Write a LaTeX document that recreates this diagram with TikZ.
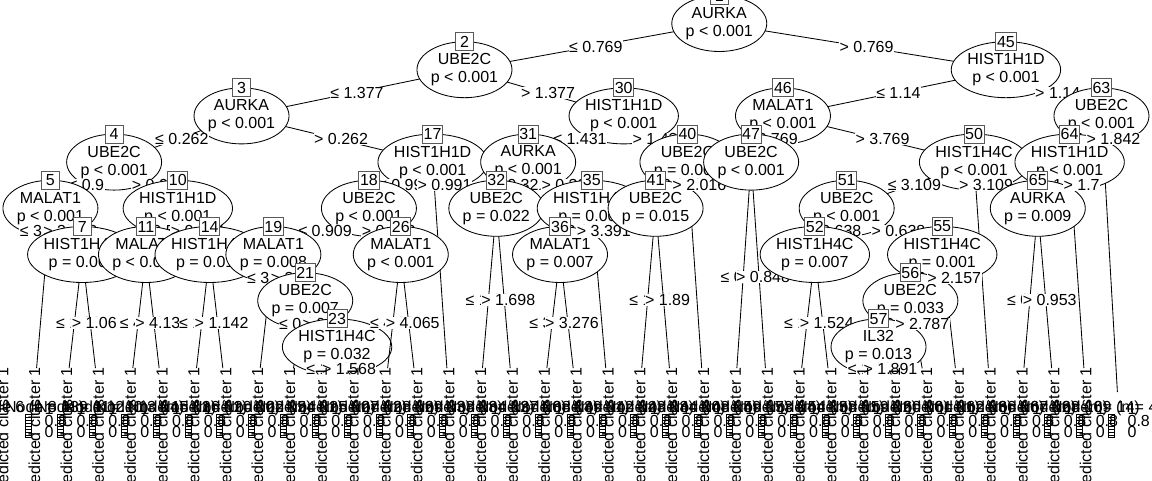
\documentclass[tikz,border=0pt]{standalone}
\usepackage{fontspec}
\setmainfont{Liberation Sans}
\usetikzlibrary{shapes.geometric,calc}
\tikzset{
  txt/.style={font=\fontsize{16}{18}\selectfont},
  inner/.style={txt, ellipse, draw, fill=white, minimum width=86pt, minimum height=56pt, inner sep=0pt, align=center, line width=0.85pt},
  idbox/.style={txt, rectangle, draw=black!65, fill=white, inner sep=1.2pt, minimum width=18pt, minimum height=18pt, line width=0.9pt},
  edge/.style={line width=0.85pt},
  tedge/.style={edge, shorten >=24pt},
  elab/.style={txt, fill=white, inner sep=0.5pt},
  thead/.style={txt, inner sep=0pt},
  rlab/.style={txt, inner sep=0pt, rotate=90, anchor=east},
  axl/.style={txt, inner sep=0pt, anchor=west},
}
\newcommand\ipos[3]{\coordinate (c#1) at ({34.5+31.85*#2},{23.5+46.2*#3});}
\newcommand\tpos[2]{\coordinate (c#1) at ({34.5+31.85*#2},392);}
\newcommand\inn[3]{\node[inner] (n#1) at (c#1) {#2\\#3};\node[idbox] (b#1) at ([yshift=28pt]c#1) {#1};}
\newcommand\lab[4]{\path let \p1=($(c#1)!0.5!(c#2)$), \p2=($(c#1)!0.5!(c#3)$) in node[elab] (l#2) at (\x1+4pt,\y2) {#4};}
\newcommand\E[2]{\draw[edge] (c#1) -- (c#2);}
\newcommand\T[2]{\draw[tedge] (c#1) -- (c#2);}
\newcommand\term[3]{%
  \pgfmathsetmacro\tx{34.5+31.85*#2}%
  \pgfmathsetmacro\rx{\tx-31.85}%
  \node[rlab] (r#1) at (\rx,367) {Predicted cluster 1};
  \node[thead] (h#1) at ({\tx-6},408) {Node #1 (n = #3)};
  \draw[line width=0.5pt] ({\tx-9},414) rectangle ({\tx-3},437);
  \foreach \yy in {417,420,...,435} {\draw[line width=0.5pt] ({\tx-9},\yy) -- ({\tx-3},\yy);}
  \node[axl] (a#1) at ({\tx+10},409) {1};
  \node[axl] at ({\tx+10},421) {0.8};
  \node[axl] at ({\tx+10},432) {0};
}
\begin{document}
\begin{tikzpicture}[x=1pt,y=-1pt]
\fill[white] (0,0) rectangle (1152,480);
\useasboundingbox (0,0) rectangle (1152,480);
\ipos{1}{21.5}{0}\ipos{2}{13.5}{1}\ipos{3}{6.5}{2}\ipos{4}{2.5}{3}\ipos{5}{0.5}{4}
\ipos{7}{1.5}{5}\ipos{10}{4.5}{4}\ipos{11}{3.5}{5}\ipos{14}{5.5}{5}\ipos{17}{12.5}{3}
\ipos{18}{10.5}{4}\ipos{19}{7.5}{5}\ipos{21}{8.5}{6}\ipos{23}{9.5}{7}\ipos{26}{11.5}{5}
\ipos{30}{18.5}{2}\ipos{31}{15.5}{3}\ipos{32}{14.5}{4}\ipos{35}{17.5}{4}\ipos{36}{16.5}{5}
\ipos{40}{20.5}{3}\ipos{41}{19.5}{4}\ipos{45}{30.5}{1}\ipos{46}{23.5}{2}\ipos{47}{22.5}{3}
\ipos{50}{29.5}{3}\ipos{51}{25.5}{4}\ipos{52}{24.5}{5}\ipos{55}{28.5}{5}\ipos{56}{27.5}{6}
\ipos{57}{26.5}{7}\ipos{63}{33.5}{2}\ipos{64}{32.5}{3}\ipos{65}{31.5}{4}
\tpos{6}{0}\tpos{8}{1}\tpos{9}{2}\tpos{12}{3}\tpos{13}{4}\tpos{15}{5}\tpos{16}{6}
\tpos{20}{7}\tpos{22}{8}\tpos{24}{9}\tpos{25}{10}\tpos{27}{11}\tpos{28}{12}\tpos{29}{13}
\tpos{33}{14}\tpos{34}{15}\tpos{37}{16}\tpos{38}{17}\tpos{39}{18}\tpos{42}{19}\tpos{43}{20}
\tpos{44}{21}\tpos{48}{22}\tpos{49}{23}\tpos{53}{24}\tpos{54}{25}\tpos{58}{26}\tpos{59}{27}
\tpos{60}{28}\tpos{61}{29}\tpos{62}{30}\tpos{66}{31}\tpos{67}{32}\tpos{68}{33}\tpos{69}{34}
% tree, drawn in the order of the original plot
\E{1}{2}\E{1}{45}\inn{1}{AURKA}{p < 0.001}\lab{1}{2}{2}{≤ 0.769}
\E{2}{3}\E{2}{30}\inn{2}{UBE2C}{p < 0.001}\lab{2}{3}{3}{≤ 1.377}
\E{3}{4}\E{3}{17}\inn{3}{AURKA}{p < 0.001}\lab{3}{4}{4}{≤ 0.262}
\E{4}{5}\E{4}{10}\inn{4}{UBE2C}{p < 0.001}\lab{4}{5}{5}{≤ 0.9}
\T{5}{6}\E{5}{7}\inn{5}{MALAT1}{p < 0.001}\lab{5}{6}{7}{≤ 3.418}\term{6}{0}{13}\lab{5}{7}{7}{> 3.418}
\T{7}{8}\T{7}{9}\inn{7}{HIST1H4C}{p = 0.003}\lab{7}{8}{8}{≤ 1.06}\term{8}{1}{11}\lab{7}{9}{8}{> 1.06}\term{9}{2}{10}
\lab{4}{10}{5}{> 0.9}
\E{10}{11}\E{10}{14}\inn{10}{HIST1H1D}{p < 0.001}\lab{10}{11}{11}{≤ 0.524}
\T{11}{12}\T{11}{13}\inn{11}{MALAT1}{p < 0.001}\lab{11}{12}{12}{≤ 4.13}\term{12}{3}{14}\lab{11}{13}{12}{> 4.13}\term{13}{4}{12}
\lab{10}{14}{11}{> 0.524}
\T{14}{15}\T{14}{16}\inn{14}{HIST1H4C}{p = 0.014}\lab{14}{15}{15}{≤ 1.142}\term{15}{5}{11}\lab{14}{16}{15}{> 1.142}\term{16}{6}{10}
\lab{3}{17}{4}{> 0.262}
\E{17}{18}\T{17}{29}\inn{17}{HIST1H1D}{p < 0.001}\lab{17}{18}{18}{≤ 0.991}
\E{18}{19}\E{18}{26}\inn{18}{UBE2C}{p < 0.001}\lab{18}{19}{19}{≤ 0.909}
\T{19}{20}\E{19}{21}\inn{19}{MALAT1}{p = 0.008}\lab{19}{20}{21}{≤ 3.45}\term{20}{7}{15}\lab{19}{21}{21}{> 3.45}
\T{21}{22}\E{21}{23}\inn{21}{UBE2C}{p = 0.007}\lab{21}{22}{23}{≤ 0.39}\term{22}{8}{11}\lab{21}{23}{23}{> 0.39}
\T{23}{24}\T{23}{25}\inn{23}{HIST1H4C}{p = 0.032}\lab{23}{24}{24}{≤ 1.568}\term{24}{9}{10}\lab{23}{25}{24}{> 1.568}\term{25}{10}{12}
\lab{18}{26}{19}{> 0.909}
\T{26}{27}\T{26}{28}\inn{26}{MALAT1}{p < 0.001}\lab{26}{27}{27}{≤ 4.065}\term{27}{11}{16}\lab{26}{28}{27}{> 4.065}\term{28}{12}{13}
\lab{17}{29}{18}{> 0.991}\term{29}{13}{18}
\lab{2}{30}{3}{> 1.377}
\E{30}{31}\E{30}{40}\inn{30}{HIST1H1D}{p < 0.001}\lab{30}{31}{31}{≤ 1.431}
\E{31}{32}\E{31}{35}\inn{31}{AURKA}{p < 0.001}\lab{31}{32}{32}{≤ 0.32}
\T{32}{33}\T{32}{34}\inn{32}{UBE2C}{p = 0.022}\lab{32}{33}{33}{≤ 1.698}\term{33}{14}{12}\lab{32}{34}{33}{> 1.698}\term{34}{15}{10}
\lab{31}{35}{32}{> 0.32}
\E{35}{36}\T{35}{39}\inn{35}{HIST1H4C}{p = 0.004}\lab{35}{36}{36}{≤ 3.391}
\T{36}{37}\T{36}{38}\inn{36}{MALAT1}{p = 0.007}\lab{36}{37}{37}{≤ 3.276}\term{37}{16}{14}\lab{36}{38}{37}{> 3.276}\term{38}{17}{11}
\lab{35}{39}{36}{> 3.391}\term{39}{18}{12}
\lab{30}{40}{31}{> 1.431}
\E{40}{41}\T{40}{44}\inn{40}{UBE2C}{p = 0.002}\lab{40}{41}{41}{≤ 2.016}
\T{41}{42}\T{41}{43}\inn{41}{UBE2C}{p = 0.015}\lab{41}{42}{42}{≤ 1.89}\term{42}{19}{13}\lab{41}{43}{42}{> 1.89}\term{43}{20}{10}
\lab{40}{44}{41}{> 2.016}\term{44}{21}{15}
\lab{1}{45}{2}{> 0.769}
\E{45}{46}\E{45}{63}\inn{45}{HIST1H1D}{p < 0.001}\lab{45}{46}{46}{≤ 1.14}
\E{46}{47}\E{46}{50}\inn{46}{MALAT1}{p < 0.001}\lab{46}{47}{47}{≤ 3.769}
\T{47}{48}\T{47}{49}\inn{47}{UBE2C}{p < 0.001}\lab{47}{48}{48}{≤ 0.848}\term{48}{22}{17}\lab{47}{49}{48}{> 0.848}\term{49}{23}{14}
\lab{46}{50}{47}{> 3.769}
\E{50}{51}\T{50}{62}\inn{50}{HIST1H4C}{p < 0.001}\lab{50}{51}{51}{≤ 3.109}
\E{51}{52}\E{51}{55}\inn{51}{UBE2C}{p < 0.001}\lab{51}{52}{52}{≤ 0.638}
\T{52}{53}\T{52}{54}\inn{52}{HIST1H4C}{p = 0.007}\lab{52}{53}{53}{≤ 1.524}\term{53}{24}{13}\lab{52}{54}{53}{> 1.524}\term{54}{25}{11}
\lab{51}{55}{52}{> 0.638}
\E{55}{56}\T{55}{61}\inn{55}{HIST1H4C}{p = 0.001}\lab{55}{56}{56}{≤ 2.157}
\E{56}{57}\T{56}{60}\inn{56}{UBE2C}{p = 0.033}\lab{56}{57}{57}{≤ 2.787}
\T{57}{58}\T{57}{59}\inn{57}{IL32}{p = 0.013}\lab{57}{58}{58}{≤ 1.891}\term{58}{26}{12}\lab{57}{59}{58}{> 1.891}\term{59}{27}{10}
\lab{56}{60}{57}{> 2.787}\term{60}{28}{11}
\lab{55}{61}{56}{> 2.157}\term{61}{29}{13}
\lab{50}{62}{51}{> 3.109}\term{62}{30}{16}
\lab{45}{63}{46}{> 1.14}
\E{63}{64}\E{63}{69}\inn{63}{UBE2C}{p < 0.001}\lab{63}{64}{64}{≤ 1.842}
\E{64}{65}\T{64}{68}\inn{64}{HIST1H1D}{p < 0.001}\lab{64}{65}{65}{≤ 1.7}
\T{65}{66}\T{65}{67}\inn{65}{AURKA}{p = 0.009}\lab{65}{66}{66}{≤ 0.953}\term{66}{31}{12}\lab{65}{67}{66}{> 0.953}\term{67}{32}{10}
\lab{64}{68}{65}{> 1.7}\term{68}{33}{14}
\lab{63}{69}{64}{> 1.842}\term{69}{34}{41}
\end{tikzpicture}
\end{document}
